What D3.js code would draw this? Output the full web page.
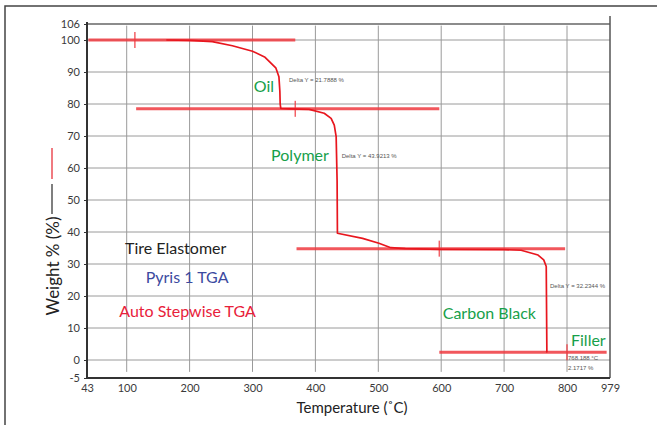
<!DOCTYPE html>
<html><head><meta charset="utf-8">
<script src="https://cdn.jsdelivr.net/npm/d3@7"></script>
<style>body{margin:0;background:#fff}svg{display:block}</style>
</head><body><svg id="c" width="657" height="425"></svg>
<script>
// ---- data ----
const xTickValues = [43, 100, 200, 300, 400, 500, 600, 700, 800, 979];
const yTickValues = [-5, 0, 10, 20, 30, 40, 50, 60, 70, 80, 90, 100, 106];
const xGridValues = [100, 200, 300, 400, 500, 600, 700, 800];
const yGridValues = [0, 10, 20, 30, 40, 50, 60, 70, 80, 90, 100];

const curveTemp   = [163, 200, 236, 268, 300, 320, 337, 342, 343.5, 344, 345, 358, 390, 414, 425, 430, 433, 434.5, 435, 475, 501, 520, 543, 600, 700, 727, 754, 763, 767, 768, 767];
const curveWeight = [100, 99.9, 99.5, 98.2, 96.5, 94.6, 91.3, 88.5, 84, 80, 78.6, 78.5, 78.3, 77.1, 75.5, 73.4, 69.8, 56, 39.6, 38.0, 36.5, 35.1, 34.8, 34.6, 34.5, 34.3, 32.8, 31.3, 29.2, 2.6, 2.4];

const stepStart = [45, 115, 370, 597];
const stepEnd   = [368, 597, 797, 965];
const stepLevel = [100, 78.5, 34.8, 2.4];
const stepMark  = [113, 368, 597, 800];

const stageNames  = ["Oil", "Polymer", "Carbon Black", "Filler"];
const stageTemp   = [302, 329.6, 602.4, 816.7];
const stageWeight = [83.75, 62.2, 12.7, 4.5];

const noteTexts  = ["Delta Y = 21.7888 %", "Delta Y = 43.9213 %", "Delta Y = 32.2344 %", "768.188 °C", "2.1717 %"];
const noteTemp   = [358, 441.8, 773, 804, 804];
const noteWeight = [86.9, 63.1, 22.5, 0, -2.8];

const infoTexts  = ["Tire Elastomer", "Pyris 1 TGA", "Auto Stepwise TGA"];
const infoColors = ["#222222", "#3b4aa0", "#e8213a"];
const infoTemp   = [97.6, 130.2, 89.4];
const infoWeight = [33.1, 24.2, 13.5];

// ---- chart ----
const svg = d3.select("#c");
const x = d3.scaleLinear().domain([43, 100, 800, 979]).range([87, 126.7, 567, 610]);
const y = d3.scaleLinear().domain([-5, 0, 100, 106]).range([378, 360, 40, 24]);
const FONT = "Lato, 'Open Sans', sans-serif";

// outer frame
svg.append("rect").attr("x", 5).attr("y", 6).attr("width", 700).attr("height", 460)
  .attr("fill", "none").attr("stroke", "#444").attr("stroke-width", 1.5);

// grid
svg.append("g").selectAll("line").data(yGridValues).join("line")
  .attr("x1", x(43)).attr("x2", x(979)).attr("y1", d => y(d)).attr("y2", d => y(d))
  .attr("stroke", "#9a9a9a").attr("stroke-width", 1);
svg.append("g").selectAll("line").data(xGridValues).join("line")
  .attr("x1", d => x(d)).attr("x2", d => x(d)).attr("y1", y(105.4)).attr("y2", y(-3.3))
  .attr("stroke", "#9a9a9a").attr("stroke-width", 1);

// plot frame
svg.append("line").attr("x1", x(43)).attr("x2", x(979)).attr("y1", y(106)).attr("y2", y(106))
  .attr("stroke", "#666").attr("stroke-width", 1.5);
svg.append("line").attr("x1", x(979)).attr("x2", x(979)).attr("y1", y(106) - 8).attr("y2", y(-5))
  .attr("stroke", "#555").attr("stroke-width", 1.5);
svg.append("line").attr("x1", x(43)).attr("x2", x(43)).attr("y1", y(106) - 2).attr("y2", y(-5))
  .attr("stroke", "#333").attr("stroke-width", 2);
svg.append("line").attr("x1", x(43)).attr("x2", x(979)).attr("y1", y(-5)).attr("y2", y(-5))
  .attr("stroke", "#333").attr("stroke-width", 2);

// axes
const fmt = d => String(d);
const yAxis = svg.append("g").attr("transform", `translate(${x(43)},0)`)
  .call(d3.axisLeft(y).tickValues(yTickValues).tickFormat(fmt).tickSize(3).tickSizeOuter(0).tickPadding(4));
yAxis.select(".domain").remove();
yAxis.selectAll("line").attr("stroke", "#333");
yAxis.selectAll("text").attr("font-family", FONT).attr("font-size", 11).attr("fill", "#3a3a3a");

const xAxis = svg.append("g").attr("transform", `translate(0,${y(-5)})`)
  .call(d3.axisBottom(x).tickValues(xTickValues).tickFormat(fmt).tickSize(0).tickPadding(6));
xAxis.select(".domain").remove();
xAxis.selectAll("text").attr("font-family", FONT).attr("font-size", 11).attr("fill", "#3a3a3a");

// axis titles
svg.append("text").attr("x", 352).attr("y", 413).attr("text-anchor", "middle")
  .attr("font-family", FONT).attr("font-size", 15).attr("fill", "#222").text("Temperature (˚C)");
svg.append("text").attr("transform", "translate(59,266) rotate(-90)").attr("text-anchor", "middle")
  .attr("font-family", FONT).attr("font-size", 17).attr("fill", "#222").text("Weight % (%)");
svg.append("line").attr("x1", 52).attr("x2", 52).attr("y1", 148).attr("y2", 179)
  .attr("stroke", "#f07a80").attr("stroke-width", 2);
svg.append("line").attr("x1", 52).attr("x2", 52).attr("y1", 184).attr("y2", 214)
  .attr("stroke", "#555").attr("stroke-width", 1.5);

// step lines
const steps = stepLevel.map((v, i) => ({a: stepStart[i], b: stepEnd[i], v, m: stepMark[i]}));
svg.append("g").selectAll("line").data(steps).join("line")
  .attr("x1", d => x(d.a)).attr("x2", d => x(d.b)).attr("y1", d => y(d.v)).attr("y2", d => y(d.v))
  .attr("stroke", "#ef3a40").attr("stroke-width", 3).attr("stroke-opacity", 0.85);
svg.append("g").selectAll("line").data(steps).join("line")
  .attr("x1", d => x(d.m)).attr("x2", d => x(d.m)).attr("y1", d => y(d.v) - 8).attr("y2", d => y(d.v) + 8)
  .attr("stroke", "#ef3a40").attr("stroke-width", 1.5).attr("stroke-opacity", 0.8);

// curve
const pts = curveTemp.map((t, i) => [t, curveWeight[i]]);
svg.append("path").datum(pts)
  .attr("d", d3.line().x(d => x(d[0])).y(d => y(d[1])))
  .attr("fill", "none").attr("stroke", "#e8161e").attr("stroke-width", 1.7).attr("stroke-linejoin", "round");

// stage labels
svg.append("g").selectAll("text").data(stageNames).join("text")
  .attr("x", (d, i) => x(stageTemp[i])).attr("y", (d, i) => y(stageWeight[i]))
  .attr("font-family", FONT).attr("font-size", 16).attr("fill", "#17a04a").text(d => d);

// info labels
svg.append("g").selectAll("text").data(infoTexts).join("text")
  .attr("x", (d, i) => x(infoTemp[i])).attr("y", (d, i) => y(infoWeight[i]))
  .attr("font-family", FONT).attr("font-size", 16).attr("fill", (d, i) => infoColors[i]).text(d => d);

// small notes
svg.append("g").selectAll("text").data(noteTexts).join("text")
  .attr("x", (d, i) => x(noteTemp[i])).attr("y", (d, i) => y(noteWeight[i]))
  .attr("font-family", "'Liberation Sans', Arial, sans-serif").attr("font-size", 6).attr("fill", "#555").text(d => d);
</script></body></html>
